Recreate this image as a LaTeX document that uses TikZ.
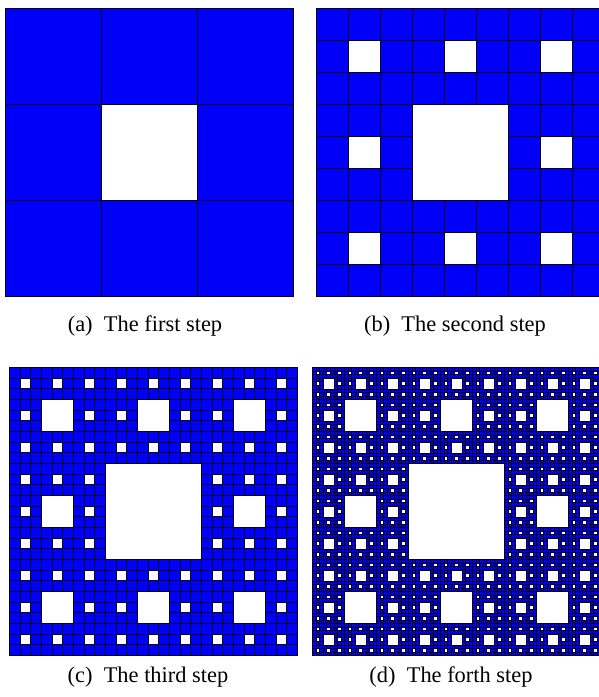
\documentclass[tikz,border=0pt]{standalone}
\usepackage{fontspec}
\setmainfont{Liberation Serif}
\definecolor{cblue}{RGB}{0,0,250}
\definecolor{cline}{RGB}{0,0,30}
\tikzset{
  cellfill/.style={fill=cblue},
  celledge/.style={draw=cline,line width=1.1bp},
  fineedge/.style={draw=cline,line width=0.6bp},
  capt/.style={font=\fontsize{22.5}{26}\selectfont, inner sep=0pt}
}
% #1 x, #2 y, #3 size, #4 level, #5 style
\newcommand\carpet[5]{%
  \ifnum#4=0
    \path[#5] (#1,#2) rectangle ++(#3,#3);
  \else
    \pgfmathsetmacro\csz{#3/3}%
    \pgfmathtruncatemacro\clv{#4-1}%
    \foreach \ci in {0,1,2}{%
      \foreach \cj in {0,1,2}{%
        \ifnum\ci\cj=11 \else
          \pgfmathsetmacro\cxx{#1+\ci*\csz}%
          \pgfmathsetmacro\cyy{#2+\cj*\csz}%
          \carpet{\cxx}{\cyy}{\csz}{\clv}{#5}%
        \fi
      }%
    }%
  \fi}
% #1 x, #2 y, #3 size, #4 level, #5 edge style
\newcommand\fullcarpet[5]{%
  \carpet{#1}{#2}{#3}{#4}{cellfill}%
  \carpet{#1}{#2}{#3}{#4}{#5}}
\begin{document}
\begin{tikzpicture}[x=1bp,y=-1bp]
\useasboundingbox (0,0) rectangle (599,697);
\fullcarpet{5.5}{8.5}{288}{1}{celledge}
\fullcarpet{316.5}{8.5}{288}{2}{celledge}
\fullcarpet{9.5}{367.5}{288}{3}{celledge}
\fullcarpet{312.5}{367.5}{288}{4}{fineedge}
\node[capt] (ca) at (145,326) {(a)\hspace{0.5em}The first step};
\node[capt] (cb) at (455,326) {(b)\hspace{0.5em}The second step};
\node[capt] (cc) at (148,677) {(c)\hspace{0.5em}The third step};
\node[capt] (cd) at (451,677) {(d)\hspace{0.5em}The forth step};
\end{tikzpicture}
\end{document}
